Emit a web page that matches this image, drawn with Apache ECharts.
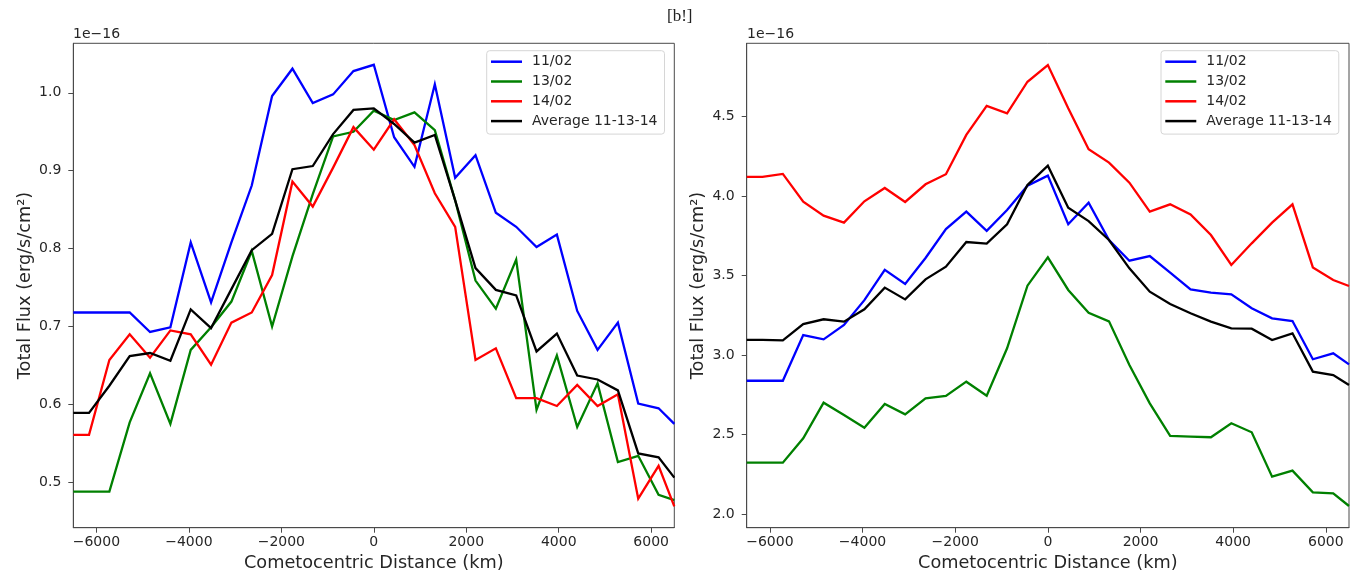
<!DOCTYPE html>
<html><head><meta charset="utf-8">
<script src="https://cdn.jsdelivr.net/npm/echarts@6/dist/echarts.min.js"></script>
<style>html,body{margin:0;padding:0;background:#fff}#c{width:1359px;height:579px}</style>
</head><body><div id="c"></div>
<script>
// Cometocentric distance (km)
const distances = [-6500, -6160, -5720, -5280, -4840, -4400, -3960, -3520, -3080, -2640, -2200, -1760, -1320, -880, -440, 0,
  440, 880, 1320, 1760, 2200, 2640, 3080, 3520, 3960, 4400, 4840, 5280, 5720, 6160, 6500];

// Left panel (units of 1e-16 erg/s/cm2)
const leftFeb11 = [0.718, 0.718, 0.718, 0.718, 0.693, 0.699, 0.808, 0.731, 0.808, 0.881, 0.996, 1.031, 0.987, 0.998, 1.028, 1.036,
  0.943, 0.905, 1.011, 0.891, 0.920, 0.846, 0.828, 0.802, 0.818, 0.720, 0.670, 0.705, 0.601, 0.595, 0.575];
const leftFeb13 = [0.488, 0.488, 0.488, 0.577, 0.640, 0.575, 0.670, 0.699, 0.732, 0.797, 0.700, 0.790, 0.870, 0.944, 0.950, 0.977,
  0.965, 0.975, 0.952, 0.862, 0.759, 0.723, 0.786, 0.593, 0.663, 0.571, 0.627, 0.526, 0.534, 0.484, 0.477];
const leftFeb14 = [0.561, 0.561, 0.657, 0.690, 0.660, 0.695, 0.690, 0.651, 0.705, 0.718, 0.766, 0.886, 0.854, 0.904, 0.956, 0.927,
  0.966, 0.933, 0.871, 0.828, 0.657, 0.672, 0.608, 0.608, 0.598, 0.625, 0.598, 0.613, 0.479, 0.521, 0.469];
const leftAverage = [0.589, 0.589, 0.624, 0.662, 0.666, 0.656, 0.722, 0.698, 0.748, 0.798, 0.819, 0.902, 0.906, 0.947, 0.978, 0.980,
  0.960, 0.936, 0.946, 0.862, 0.775, 0.747, 0.740, 0.668, 0.691, 0.637, 0.632, 0.618, 0.537, 0.532, 0.506];

// Right panel (units of 1e-16 erg/s/cm2)
const rightFeb11 = [2.839, 2.839, 2.839, 3.126, 3.099, 3.189, 3.345, 3.535, 3.447, 3.610, 3.792, 3.901, 3.780, 3.911, 4.064, 4.127,
  3.822, 3.957, 3.723, 3.593, 3.622, 3.518, 3.413, 3.392, 3.382, 3.294, 3.231, 3.214, 2.974, 3.011, 2.942];
const rightFeb13 = [2.324, 2.324, 2.324, 2.477, 2.701, 2.624, 2.544, 2.693, 2.628, 2.729, 2.743, 2.833, 2.745, 3.043, 3.436, 3.614,
  3.409, 3.266, 3.212, 2.938, 2.697, 2.492, 2.488, 2.484, 2.572, 2.515, 2.236, 2.274, 2.138, 2.132, 2.052];
const rightFeb14 = [4.119, 4.119, 4.138, 3.964, 3.876, 3.832, 3.966, 4.050, 3.962, 4.073, 4.136, 4.383, 4.565, 4.519, 4.717, 4.822,
  4.550, 4.293, 4.209, 4.083, 3.901, 3.947, 3.884, 3.754, 3.566, 3.702, 3.832, 3.947, 3.551, 3.472, 3.434];
const rightAverage = [3.095, 3.096, 3.093, 3.195, 3.225, 3.210, 3.288, 3.424, 3.350, 3.476, 3.555, 3.710, 3.700, 3.822, 4.068, 4.190,
  3.926, 3.842, 3.723, 3.545, 3.398, 3.321, 3.263, 3.210, 3.168, 3.166, 3.095, 3.137, 2.896, 2.875, 2.812];

const seriesNames = ['11/02', '13/02', '14/02', 'Average 11-13-14'];
const seriesColors = ['#0000ff', '#008000', '#ff0000', '#000000'];
const xTicks = [-6000, -4000, -2000, 0, 2000, 4000, 6000];
const leftYTicks = [0.5, 0.6, 0.7, 0.8, 0.9, 1.0];
const rightYTicks = [2.0, 2.5, 3.0, 3.5, 4.0, 4.5];

const FONT = 'DejaVu Sans';
const TXT = '#262626';
const SPINE = '#4a4a4a';

const chart = echarts.init(document.getElementById('c'), null, {renderer: 'canvas'});

function xAxisCfg(gi) {
  return {
    gridIndex: gi, type: 'value', min: -6500, max: 6500,
    axisLine: {show: true, onZero: false, lineStyle: {color: SPINE, width: 1}},
    axisTick: {show: true, customValues: xTicks, length: 5, lineStyle: {color: SPINE, width: 1}},
    axisLabel: {customValues: xTicks, margin: 8, color: TXT, fontFamily: FONT, fontSize: 14,
      formatter: v => v < 0 ? '\u2212' + Math.abs(v) : String(v)},
    splitLine: {show: false},
    name: 'Cometocentric Distance (km)', nameLocation: 'middle', nameGap: 27,
    nameTextStyle: {color: TXT, fontFamily: FONT, fontSize: 17.7}
  };
}
function yAxisCfg(gi, mn, mx, ticks) {
  return {
    gridIndex: gi, type: 'value', min: mn, max: mx, position: 'left',
    axisLine: {show: true, onZero: false, lineStyle: {color: SPINE, width: 1}},
    axisTick: {show: true, customValues: ticks, length: 5, lineStyle: {color: SPINE, width: 1}},
    axisLabel: {customValues: ticks, margin: 12, color: TXT, fontFamily: FONT, fontSize: 14,
      formatter: v => v.toFixed(1)},
    splitLine: {show: false},
    name: 'Total Flux (erg/s/cm\u00b2)', nameLocation: 'middle', nameGap: 39,
    nameTextStyle: {color: TXT, fontFamily: FONT, fontSize: 17.7}
  };
}
function mk(name, color, vals, gi) {
  return {
    name: name, type: 'line', xAxisIndex: gi, yAxisIndex: gi,
    data: distances.map((d, i) => [d, vals[i]]),
    showSymbol: false, symbol: 'none', clip: true,
    lineStyle: {color: color, width: 2.3, join: 'miter'},
    itemStyle: {color: color},
    emphasis: {disabled: true}, animation: false
  };
}
function legendCfg(left) {
  return {
    data: seriesNames, orient: 'vertical', left: left, top: 50.7,
    icon: 'rect', itemWidth: 31, itemHeight: 2.5, itemGap: 3.8,
    padding: [3, 7, 5, 4.3],
    backgroundColor: 'rgba(255,255,255,0.85)', borderColor: '#d6d6d6', borderWidth: 1, borderRadius: 3,
    textStyle: {color: TXT, fontFamily: FONT, fontSize: 14, lineHeight: 16, padding: [0, 0, 0, 5]},
    selectedMode: false
  };
}

const leftSets = [leftFeb11, leftFeb13, leftFeb14, leftAverage];
const rightSets = [rightFeb11, rightFeb13, rightFeb14, rightAverage];
const series = [];
seriesNames.forEach((n, i) => series.push(mk(n, seriesColors[i], leftSets[i], 0)));
seriesNames.forEach((n, i) => series.push(mk(n, seriesColors[i], rightSets[i], 1)));

chart.setOption({
  animation: false,
  backgroundColor: '#ffffff',
  grid: [
    {left: 73.3, top: 43.3, width: 601, height: 484.4, show: true, borderColor: SPINE, borderWidth: 1, backgroundColor: 'transparent'},
    {left: 746.7, top: 43.3, width: 602.3, height: 484.4, show: true, borderColor: SPINE, borderWidth: 1, backgroundColor: 'transparent'}
  ],
  xAxis: [xAxisCfg(0), xAxisCfg(1)],
  yAxis: [yAxisCfg(0, 0.4417, 1.0636, leftYTicks), yAxisCfg(1, 1.9158, 4.9585, rightYTicks)],
  legend: [legendCfg(486.7), legendCfg(1161)],
  series: series,
  graphic: [
    {type: 'text', left: 667, top: 8, style: {text: '[b!]', font: '17px "Liberation Serif", "DejaVu Serif", serif', fill: '#222'}},
    {type: 'text', left: 73, top: 27, style: {text: '1e\u221216', font: '14px "DejaVu Sans"', fill: TXT}},
    {type: 'text', left: 747, top: 27, style: {text: '1e\u221216', font: '14px "DejaVu Sans"', fill: TXT}}
  ]
});
</script></body></html>
